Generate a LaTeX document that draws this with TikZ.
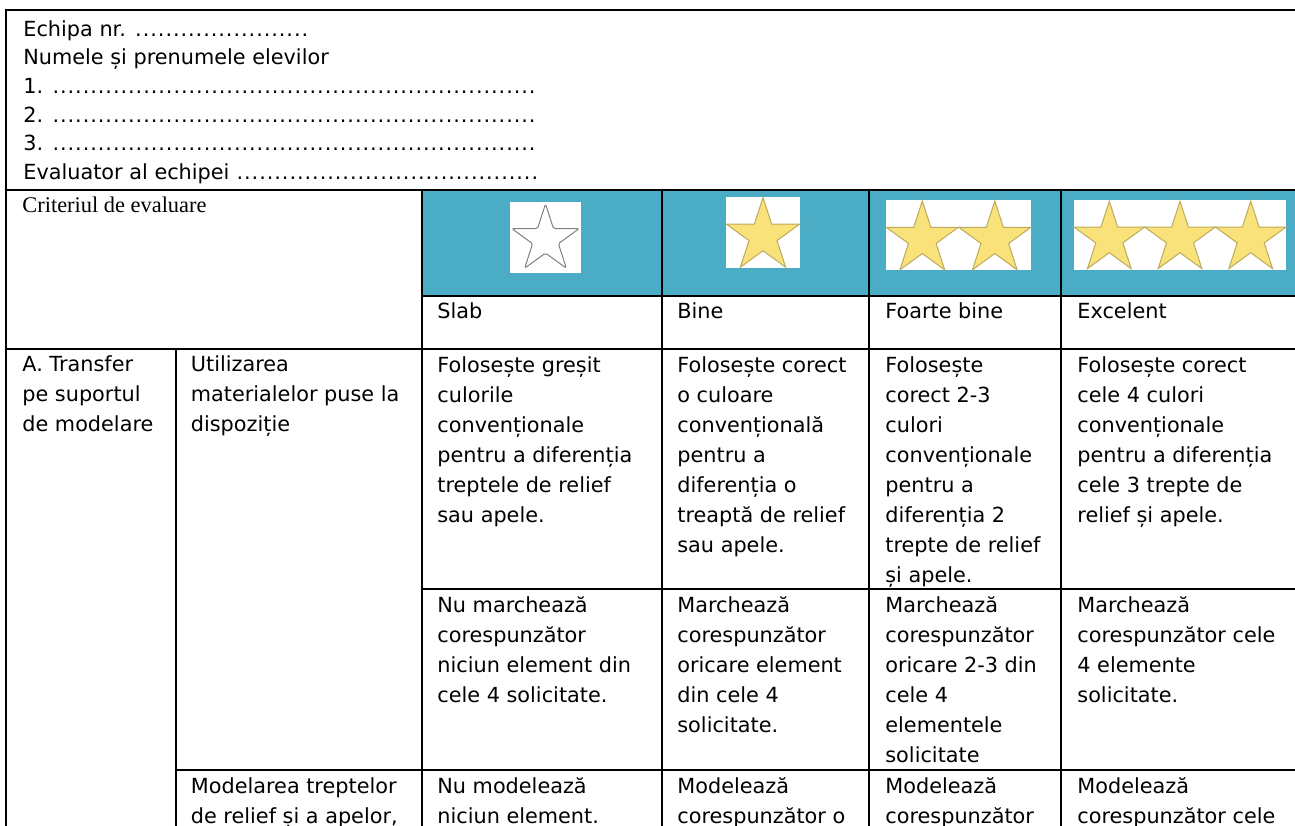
\documentclass[tikz,border=0pt]{standalone}
\usepackage{fontspec}
\setmainfont{DejaVu Sans}
\newfontfamily\serifa{Liberation Serif}
\usepackage{tikz}
\usetikzlibrary{shapes.geometric}

\definecolor{antetblue}{RGB}{75,172,198}
\definecolor{stelegalben}{RGB}{250,226,122}
\definecolor{stelecontur}{RGB}{190,170,92}

% puncte de completat
\newcommand\puncte[1]{\foreach \k in {1,...,#1}{\makebox[3.78pt]{.}}}

\begin{document}
\begin{tikzpicture}[
    x=0.5pt, y=-0.5pt,
    tabline/.style={line width=1pt, line cap=rect},
    celltext/.style={anchor=north west, inner sep=0pt, align=left, font=\fontsize{10.4}{15}\selectfont, execute at begin node=\strut},
    antettext/.style={anchor=north west, inner sep=0pt, align=left, font=\fontsize{10.4}{14.3}\selectfont, execute at begin node=\strut},
    criteriu/.style={anchor=north west, inner sep=0pt, font=\serifa\fontsize{11.2}{13}\selectfont, execute at begin node=\strut},
    steaplina/.style={star, star points=5, star point ratio=2.618, inner sep=0pt, draw=stelecontur, fill=stelegalben, line width=0.5pt},
    steagoala/.style={star, star points=5, star point ratio=2.618, inner sep=0pt, draw=gray, fill=white, line width=0.5pt, rounded corners=0.8pt}
]
\useasboundingbox (0,0) rectangle (1295,825);
\clip (0,0) rectangle (1295,825);

% ---------- fundal ----------
\fill[antetblue] (421.5,190) rectangle (1300,296);
\fill[white] (510,202) rectangle (581,273);
\fill[white] (726,197) rectangle (800,268);
\fill[white] (886,200) rectangle (1031,270);
\fill[white] (1074,200) rectangle (1286,270);

% ---------- stele ----------
\node[steagoala, minimum size=35.5pt] (s0) at (545.5,239.5) {};
\node[steaplina, minimum size=38.5pt] (s1) at (763,236) {};
\node[steaplina, minimum size=38pt] (s2a) at (922.3,239) {};
\node[steaplina, minimum size=38pt] (s2b) at (994.8,239) {};
\node[steaplina, minimum size=37.2pt] (s3a) at (1109.3,238.5) {};
\node[steaplina, minimum size=37.2pt] (s3b) at (1180,238.5) {};
\node[steaplina, minimum size=37.2pt] (s3c) at (1250.7,238.5) {};

% ---------- linii tabel ----------
\draw[tabline] (6,10) -- (1300,10);
\draw[tabline] (6,190) -- (1300,190);
\draw[tabline] (421.5,296) -- (1300,296);
\draw[tabline] (6,349) -- (1300,349);
\draw[tabline] (421.5,589) -- (1300,589);
\draw[tabline] (176,770) -- (1300,770);
\draw[tabline] (6,10) -- (6,830);
\draw[tabline] (176,349) -- (176,830);
\foreach \x in {421.5,662,869,1061}
  \draw[tabline] (\x,190) -- (\x,830);

% ---------- antet ----------
\node[antettext] (antet) at (23,20) {Echipa nr. \puncte{23}\\
  Numele și prenumele elevilor\\
  1. \puncte{64}\\
  2. \puncte{64}\\
  3. \puncte{64}\\
  Evaluator al echipei \puncte{40}};
\node[criteriu] (crit) at (22,194) {Criteriul de evaluare};

% ---------- calificative ----------
\node[celltext] (slab) at (437,297) {Slab};
\node[celltext] (bine) at (677,297) {Bine};
\node[celltext] (fbine) at (885,297) {Foarte bine};
\node[celltext] (exc) at (1077,297) {Excelent};

% ---------- criteriul A ----------
\node[celltext] (critA) at (22,355.5) {A. Transfer\\pe suportul\\de modelare};
\node[celltext] (util) at (190.5,355.5) {Utilizarea\\materialelor puse la\\dispoziție};

% rand 1
\node[celltext] (a1slab) at (437,356) {Folosește greșit\\culorile\\convenționale\\pentru a diferenția\\treptele de relief\\sau apele.};
\node[celltext] (a1bine) at (677,356) {Folosește corect\\o culoare\\convențională\\pentru a\\diferenția o\\treaptă de relief\\sau apele.};
\node[celltext] (a1fb) at (885,356) {Folosește\\corect 2-3\\culori\\convenționale\\pentru a\\diferenția 2\\trepte de relief\\și apele.};
\node[celltext] (a1exc) at (1077,356) {Folosește corect\\cele 4 culori\\convenționale\\pentru a diferenția\\cele 3 trepte de\\relief și apele.};

% rand 2
\node[celltext] (a2slab) at (437,596) {Nu marchează\\corespunzător\\niciun element din\\cele 4 solicitate.};
\node[celltext] (a2bine) at (677,596) {Marchează\\corespunzător\\oricare element\\din cele 4\\solicitate.};
\node[celltext] (a2fb) at (885,596) {Marchează\\corespunzător\\oricare 2-3 din\\cele 4\\elementele\\solicitate};
\node[celltext] (a2exc) at (1077,596) {Marchează\\corespunzător cele\\4 elemente\\solicitate.};

% rand 3
\node[celltext] (model) at (190.5,777.5) {Modelarea treptelor\\de relief și a apelor,};
\node[celltext] (a3slab) at (437,777.5) {Nu modelează\\niciun element.};
\node[celltext] (a3bine) at (677,777.5) {Modelează\\corespunzător o};
\node[celltext] (a3fb) at (885,777.5) {Modelează\\corespunzător};
\node[celltext] (a3exc) at (1077,777.5) {Modelează\\corespunzător cele};

\end{tikzpicture}
\end{document}
